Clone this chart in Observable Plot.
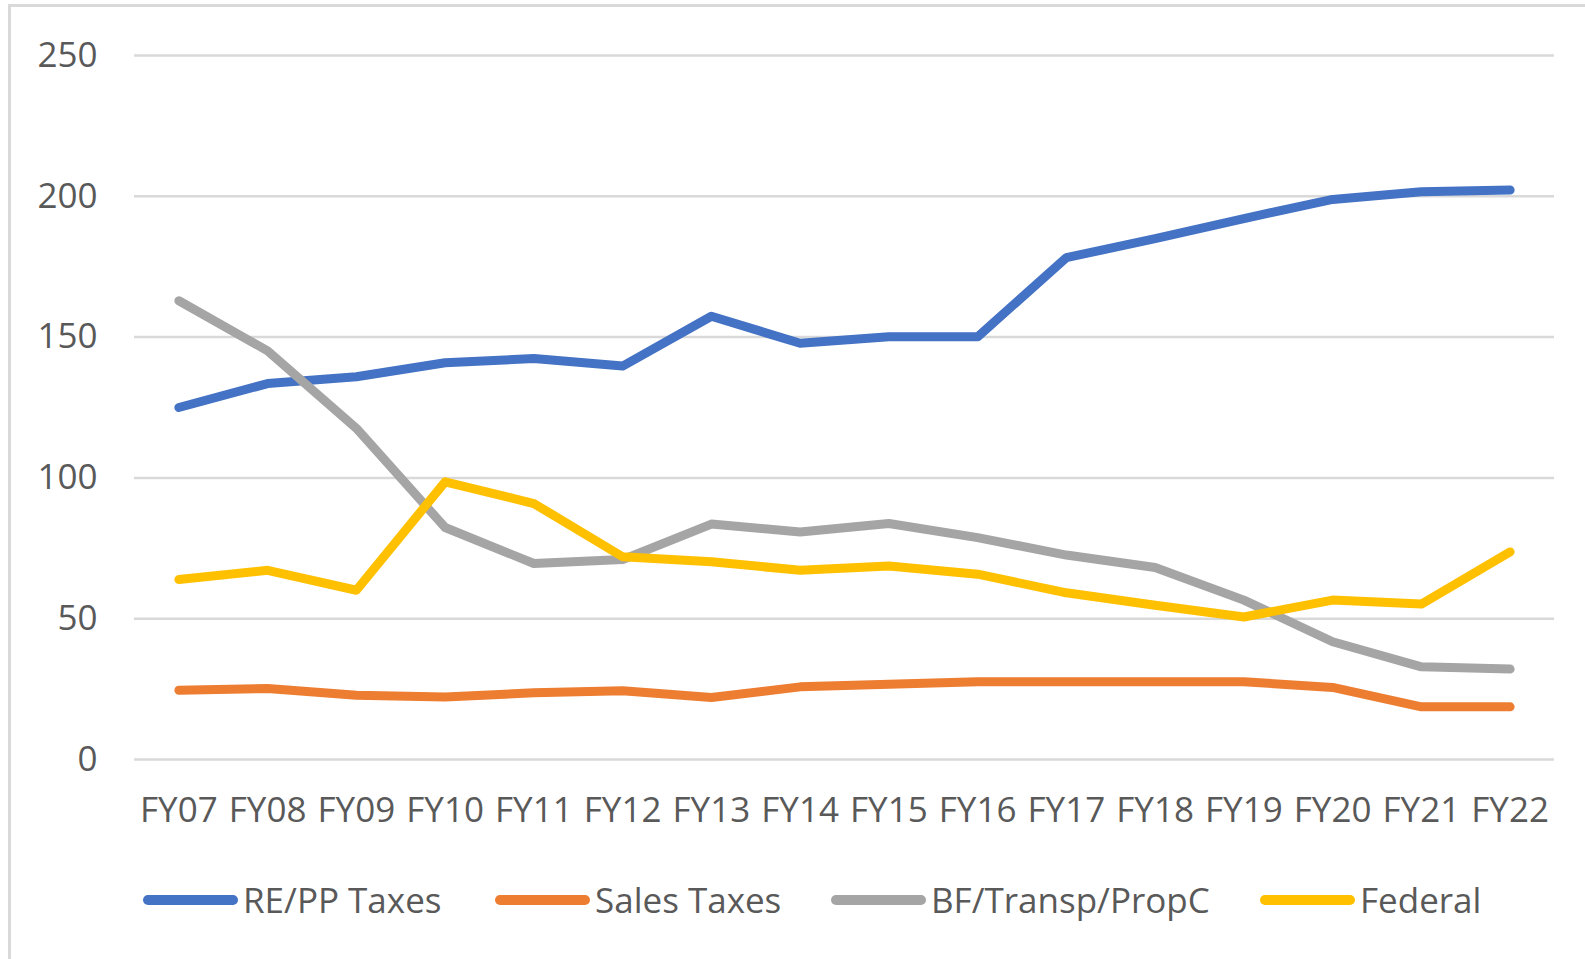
<!DOCTYPE html>
<html>
<head>
<meta charset="utf-8">
<script src="https://cdn.jsdelivr.net/npm/d3@7"></script>
<script src="https://cdn.jsdelivr.net/npm/@observablehq/plot@0.6"></script>
<style>
  html, body { margin: 0; padding: 0; background: #fff; overflow: hidden; width: 1585px; height: 959px; }
  #frame { position: absolute; left: 8px; top: 4px; width: 1640px; height: 1000px; border-left: 3px solid #d9d9d9; border-top: 3px solid #d9d9d9; }
  #chart { position: absolute; left: 0; top: 0; }
  .legend-item { position: absolute; top: 876px; display: flex; align-items: center; font-family: "Open Sans", sans-serif; font-size: 35px; color: #595959; white-space: nowrap; }
  .legend-item svg { margin-right: 5px; }
</style>
</head>
<body>
<div id="frame"></div>
<div id="chart"></div>
<div id="legend"></div>
<script>
const categories = ["FY07","FY08","FY09","FY10","FY11","FY12","FY13","FY14","FY15","FY16","FY17","FY18","FY19","FY20","FY21","FY22"];
const seriesNames = ["RE/PP Taxes", "Sales Taxes", "BF/Transp/PropC", "Federal"];
const seriesColors = ["#4472C4", "#ED7D31", "#A5A5A5", "#FFC000"];
const rePP    = [125.0,133.5,135.9,140.9,142.4,139.7,157.4,147.8,150.1,150.1,178.2,185.0,192.1,198.9,201.6,202.2];
const sales   = [24.6,25.2,22.8,22.2,23.7,24.4,22.0,25.8,26.7,27.6,27.6,27.6,27.6,25.6,18.7,18.7];
const bf      = [162.9,145.1,117.6,82.4,69.6,71.0,83.6,80.8,83.8,78.8,72.6,68.2,56.6,41.8,32.9,32.1];
const federal = [63.9,67.2,60.1,98.6,90.9,72.0,70.2,67.2,68.7,65.8,59.2,54.8,50.6,56.6,55.2,73.7];
const yTicks  = [0, 50, 100, 150, 200, 250];

const seriesValues = [rePP, sales, bf, federal];
const data = [];
seriesNames.forEach((name, i) => {
  categories.forEach((c, j) => data.push({series: name, cat: c, value: seriesValues[i][j]}));
});

const chart = Plot.plot({
  width: 1585,
  height: 850,
  marginTop: 55,
  marginBottom: 91,
  marginLeft: 134,
  marginRight: 31,
  style: {fontFamily: "'Open Sans', sans-serif", fontSize: "35px", color: "#595959", background: "transparent", overflow: "visible"},
  x: {type: "point", domain: categories, padding: 0.5, round: false, label: null},
  y: {domain: [0, 250], label: null},
  color: {domain: seriesNames, range: seriesColors},
  marks: [
    Plot.gridY(yTicks, {stroke: "#d9d9d9", strokeOpacity: 1, strokeWidth: 2.5}),
    Plot.axisY({ticks: yTicks, tickSize: 0, tickPadding: 37, label: null, fontSize: 35}),
    Plot.axisX({tickSize: 0, tickPadding: 38, label: null, fontSize: 35}),
    ...seriesNames.map(name => Plot.lineY(data.filter(d => d.series === name), {
      x: "cat", y: "value", stroke: "series", strokeWidth: 9,
      strokeLinecap: "round", strokeLinejoin: "round"
    }))
  ]
});
document.getElementById("chart").appendChild(chart);

const legendLefts = [143, 495, 831, 1260];
const legend = document.getElementById("legend");
seriesNames.forEach((name, i) => {
  const item = document.createElement("div");
  item.className = "legend-item";
  item.style.left = legendLefts[i] + "px";
  item.innerHTML = `<svg width="95" height="20"><line x1="5" y1="10" x2="90" y2="10" stroke="${seriesColors[i]}" stroke-width="10" stroke-linecap="round"/></svg><span>${name}</span>`;
  legend.appendChild(item);
});
</script>
</body>
</html>
